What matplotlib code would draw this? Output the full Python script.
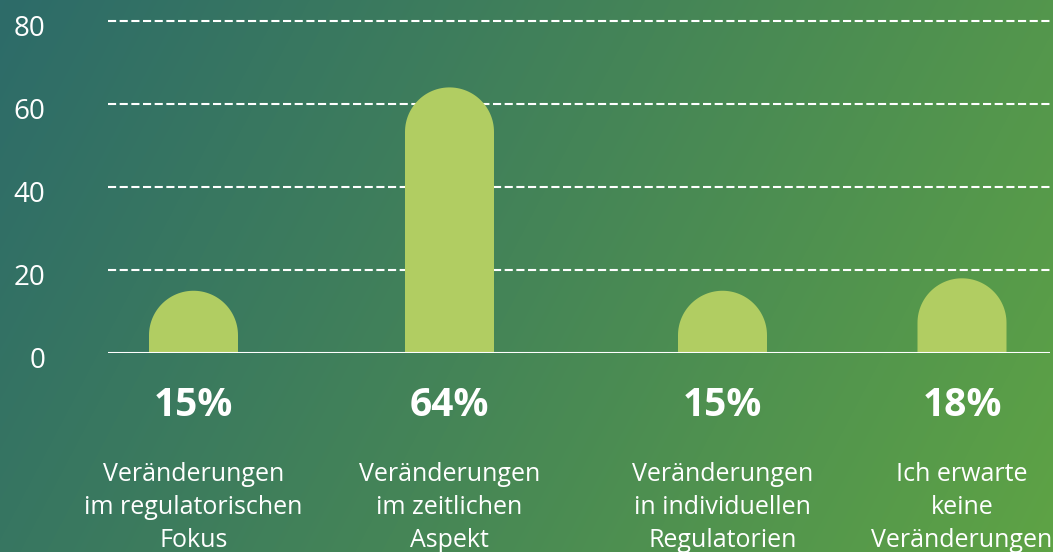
import numpy as np
import matplotlib.pyplot as plt
import matplotlib.transforms as mtransforms
from matplotlib.patches import Polygon
from matplotlib.colors import LinearSegmentedColormap

plt.rcParams['font.family'] = ['Open Sans', 'DejaVu Sans']

categories = ['Veränderungen\nim regulatorischen\nFokus',
              'Veränderungen\nim zeitlichen\nAspekt',
              'Veränderungen\nin individuellen\nRegulatorien',
              'Ich erwarte\nkeine\nVeränderungen']
values = [15, 64, 15, 18]
pct_labels = ['15%', '64%', '15%', '18%']
yticks = [0, 20, 40, 60, 80]

# bar centres (the original spacing is uneven)
xpos = [85.5, 341.5, 614.5, 854]
bar_w = 89
bar_color = '#b1cd62'

W, H = 1053, 552
fig = plt.figure(figsize=(W / 100, H / 100), dpi=100)

# diagonal gradient background
bg = fig.add_axes([0, 0, 1, 1], zorder=0)
xx, yy = np.meshgrid(np.arange(W), np.arange(H))
t = (xx * W + yy * H) / (W ** 2 + H ** 2)
cmap = LinearSegmentedColormap.from_list('bg', ['#2d6b69', '#458557', '#5ea345'])
bg.imshow(t, cmap=cmap, aspect='auto', extent=[0, 1, 0, 1], origin='upper')
bg.axis('off')

ax = fig.add_axes([108 / W, (H - 353) / H, 942 / W, 332 / H], zorder=1)
ax.patch.set_alpha(0)
ax.set_xlim(0, 942)
ax.set_ylim(0, 80)

# rounded-top bars: radius equal in pixels on both axes
p0 = ax.transData.transform((0, 0))
p1 = ax.transData.transform((1, 1))
px_x = p1[0] - p0[0]
px_y = p1[1] - p0[1]
rx = bar_w / 2
ry = rx * px_x / px_y
ang = np.linspace(np.pi, 0, 60)
for x, v in zip(xpos, values):
    top = v - ry
    pts = [(x - rx, 0), (x - rx, top)]
    pts += list(zip(x + rx * np.cos(ang), top + ry * np.sin(ang)))
    pts += [(x + rx, top), (x + rx, 0)]
    ax.add_patch(Polygon(pts, closed=True, facecolor=bar_color, edgecolor='none', zorder=3))

for y in yticks[1:]:
    ax.axhline(y, color='white', lw=1.5, ls=(0, (3.9, 1.7)), zorder=2, clip_on=False)
ax.axhline(0, color='white', lw=1.5, zorder=4)

ax.set_yticks(yticks)
ax.set_yticklabels([str(y) for y in yticks])
ax.tick_params(axis='y', length=0, pad=45, labelsize=20, labelcolor='white')
shift = mtransforms.ScaledTranslation(0, -3 / 72, fig.dpi_scale_trans)
for lab in ax.get_yticklabels():
    lab.set_transform(lab.get_transform() + shift)
ax.set_xticks([])
for s in ax.spines.values():
    s.set_visible(False)

for x, lab, cat in zip(xpos, pct_labels, categories):
    ax.annotate(lab, xy=(x, 0), xytext=(0, -38), textcoords='offset points',
                ha='center', va='center', fontsize=28, fontweight='bold', color='white')
    ax.annotate(cat, xy=(x, 0), xytext=(0, -78.5), textcoords='offset points',
                ha='center', va='top', fontsize=18, color='white', linespacing=1.42)

fig.savefig('out.png', dpi=100)
